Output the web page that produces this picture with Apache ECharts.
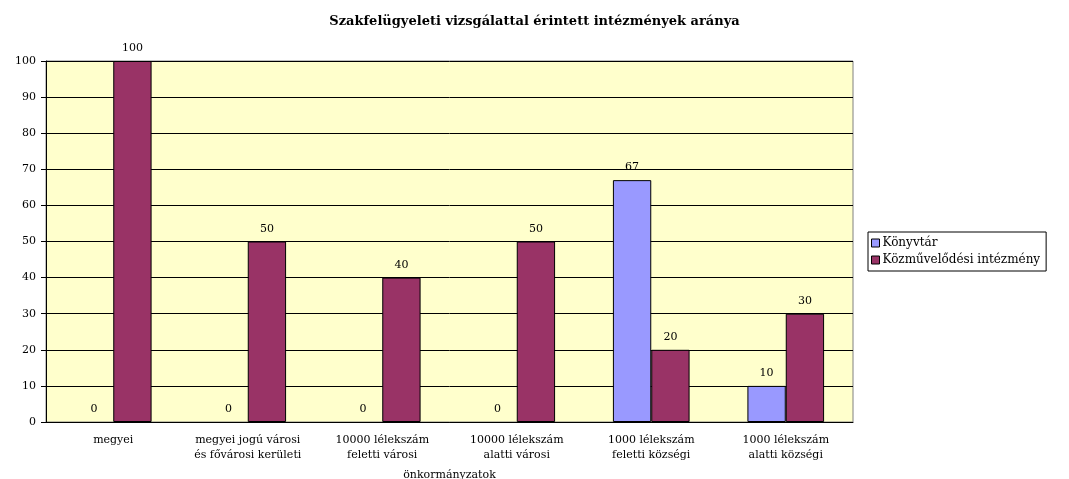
<!DOCTYPE html>
<html>
<head>
<meta charset="utf-8">
<script src="https://cdn.jsdelivr.net/npm/echarts@6/dist/echarts.min.js"></script>
<style>
  html, body { margin: 0; padding: 0; background: #fff; }
  #chart { width: 1069px; height: 479px; }
</style>
</head>
<body>
<div id="chart"></div>
<script>
const categories = [
  'megyei',
  'megyei jogú városi\nés fővárosi kerületi',
  '10000 lélekszám\nfeletti városi',
  '10000 lélekszám\nalatti városi',
  '1000 lélekszám\nfeletti községi',
  '1000 lélekszám\nalatti községi'
]
const konyvtar = [0, 0, 0, 0, 67, 10]
const kozmuvelodesi = [100, 50, 40, 50, 20, 30]
const yTicks = [0, 100, 10]

const font = 'DejaVu Serif'
const chart = echarts.init(document.getElementById('chart'))

const labelOpt = {
  show: true,
  position: 'top',
  distance: 7,
  color: '#000',
  fontFamily: font,
  fontSize: 11
}

// zero bars: no visible outline, only the label
const toItems = arr => arr.map(v => v === 0 ? { value: v, itemStyle: { borderWidth: 0 } } : v)

chart.setOption({
  animation: false,
  title: {
    text: 'Szakfelügyeleti vizsgálattal érintett intézmények aránya',
    left: 'center',
    top: 10,
    textStyle: { fontFamily: font, fontWeight: 'bold', fontSize: 13, color: '#000' }
  },
  legend: {
    orient: 'vertical',
    left: 868,
    top: 232,
    itemWidth: 8,
    itemHeight: 8,
    itemGap: 5,
    padding: [5, 6, 5, 3],
    icon: 'rect',
    borderColor: '#000',
    borderWidth: 1,
    backgroundColor: '#fff',
    textStyle: { fontFamily: font, fontSize: 12, color: '#000', padding: [0, 0, 0, -2] },
    itemStyle: { borderColor: '#000', borderWidth: 1 },
    data: ['Könyvtár', 'Közművelődési intézmény']
  },
  grid: {
    show: true,
    left: 46,
    right: 216,
    top: 61,
    bottom: 57,
    outerBoundsMode: 'none',
    containLabel: false,
    backgroundColor: '#FFFFCC',
    borderColor: '#808080',
    borderWidth: 1
  },
  xAxis: {
    type: 'category',
    data: categories,
    name: 'önkormányzatok',
    nameLocation: 'middle',
    nameGap: 48,
    nameTextStyle: { fontFamily: font, fontSize: 11, color: '#000' },
    axisLine: { lineStyle: { color: '#000' } },
    axisTick: { length: 5, lineStyle: { color: '#000' } },
    axisLabel: { fontFamily: font, fontSize: 11, color: '#000', lineHeight: 15, margin: 11, interval: 0 }
  },
  yAxis: {
    type: 'value',
    min: yTicks[0],
    max: yTicks[1],
    interval: yTicks[2],
    axisLine: { show: true, lineStyle: { color: '#000' } },
    axisTick: { show: true, length: 5, lineStyle: { color: '#000' } },
    axisLabel: { fontFamily: font, fontSize: 11, color: '#000', margin: 10 },
    splitLine: { lineStyle: { color: '#000', width: 1 } }
  },
  series: [
    {
      name: 'Könyvtár',
      type: 'bar',
      data: toItems(konyvtar),
      barGap: '0%',
      barCategoryGap: '43%',
      itemStyle: { color: '#9999FF', borderColor: '#000', borderWidth: 1 },
      label: labelOpt
    },
    {
      name: 'Közművelődési intézmény',
      type: 'bar',
      data: toItems(kozmuvelodesi),
      barGap: '0%',
      barCategoryGap: '43%',
      itemStyle: { color: '#993366', borderColor: '#000', borderWidth: 1 },
      label: labelOpt
    }
  ]
})
</script>
</body>
</html>
